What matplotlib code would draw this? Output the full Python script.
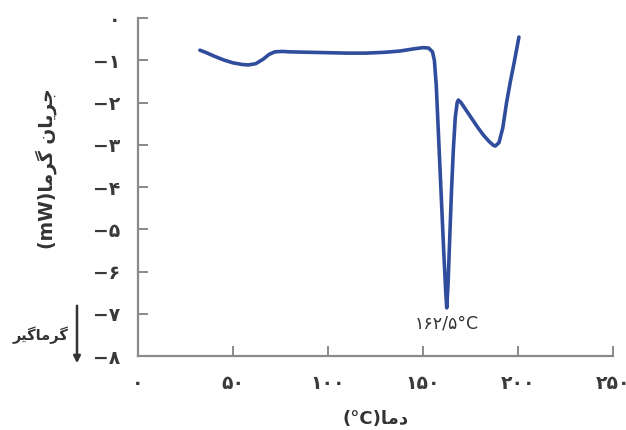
import matplotlib
matplotlib.use("Agg")
import matplotlib.pyplot as plt

plt.rcParams['font.family'] = ['DejaVu Sans']

# DSC trace: temperature (°C) vs heat flow (mW)
temperature = [32.6, 36, 40, 45, 50, 55, 58, 62, 66, 69, 72, 76, 80, 90, 100,
               110, 120, 130, 138, 145, 150, 153, 155, 156, 157, 158, 159, 160,
               161, 162, 162.5, 163.2, 164, 165, 166, 167, 168, 168.6, 170, 173,
               176, 179, 182, 185, 187, 188, 190, 192, 194, 196, 198, 200.5]
heat_flow = [-0.76, -0.82, -0.90, -0.99, -1.06, -1.10, -1.11, -1.08, -0.97, -0.86,
             -0.80, -0.79, -0.80, -0.81, -0.82, -0.83, -0.83, -0.81, -0.78, -0.73,
             -0.70, -0.71, -0.80, -1.00, -1.60, -2.60, -3.60, -4.60, -5.60, -6.50,
             -6.86, -6.30, -5.30, -4.10, -3.10, -2.35, -2.00, -1.94, -2.00, -2.20,
             -2.40, -2.60, -2.78, -2.93, -3.01, -3.03, -2.95, -2.60, -2.00, -1.50,
             -1.05, -0.45]

peak_temp = 162.5
peak_flow = -6.86

x_ticks = [0, 50, 100, 150, 200, 250]
x_tick_labels = ['۰', '۵۰', '۱۰۰', '۱۵۰', '۲۰۰', '۲۵۰']
y_ticks = [0, -1, -2, -3, -4, -5, -6, -7, -8]
y_tick_labels = ['۰', '−۱', '−۲', '−۳', '−۴', '−۵', '−۶', '−۷', '−۸']

# Persian strings written in visual order with Arabic presentation forms
x_label = '(°C)' + '\uFE8E\uFEE3\uFEA9'                      # دما(°C)
y_label = '(mW)' + '\uFE8E\uFEE3\uFEAE\uFB94' + ' ' + '\uFEE5\uFE8E\uFBFE\uFEAE\uFE9F'  # جریان گرما(mW)
endo_label = '\uFEAE\uFBFF\uFB94\uFE8E\uFEE3\uFEAE\uFB94'   # گرماگیر
peak_label = '۱۶۲/۵°C'

fig = plt.figure(figsize=(6.26, 4.30), dpi=100)
ax = fig.add_axes([0.2204, 0.172, 0.7588, 0.786])

ax.plot(temperature, heat_flow, color='#2f4d9c', lw=2.6, solid_capstyle='round',
        solid_joinstyle='round')

ax.set_xlim(0, 250)
ax.set_ylim(-8, 0)
ax.set_xticks(x_ticks)
ax.set_xticklabels(x_tick_labels, fontweight='bold')
ax.set_yticks(y_ticks)
ax.set_yticklabels(y_tick_labels, fontweight='bold')

for side in ('top', 'right'):
    ax.spines[side].set_visible(False)
for side in ('left', 'bottom'):
    ax.spines[side].set_color('#8a8a8a')
    ax.spines[side].set_linewidth(1.6)

ax.tick_params(axis='both', direction='in', length=7, width=1.4, color='#8a8a8a',
               labelcolor='#3a3a3a', labelsize=13.5)
ax.tick_params(axis='y', pad=13)
ax.tick_params(axis='x', pad=13)

ax.set_xlabel(x_label, fontsize=13, color='#333333', fontweight='bold')
ax.xaxis.set_label_coords(0.50, -0.16)
ax.set_ylabel(y_label, fontsize=13.5, color='#333333', fontweight='bold')
ax.yaxis.set_label_coords(-0.17, 0.555)

ax.annotate(peak_label, xy=(peak_temp, peak_flow), xytext=(0, -5),
            textcoords='offset points', ha='center', va='top',
            fontsize=12.5, color='#333333')

# Endothermic direction marker
fig.add_artist(matplotlib.patches.FancyArrowPatch(
    (77 / 626, 1 - 303 / 430), (77 / 626, 1 - 366 / 430),
    transform=fig.transFigure, arrowstyle='-|>', mutation_scale=10,
    color='#333333', lw=1.8))
fig.text(41 / 626, 1 - 335 / 430, endo_label, ha='center', va='center',
         fontsize=10.5, color='#333333', fontweight='bold')

fig.savefig('out.png', dpi=100)
